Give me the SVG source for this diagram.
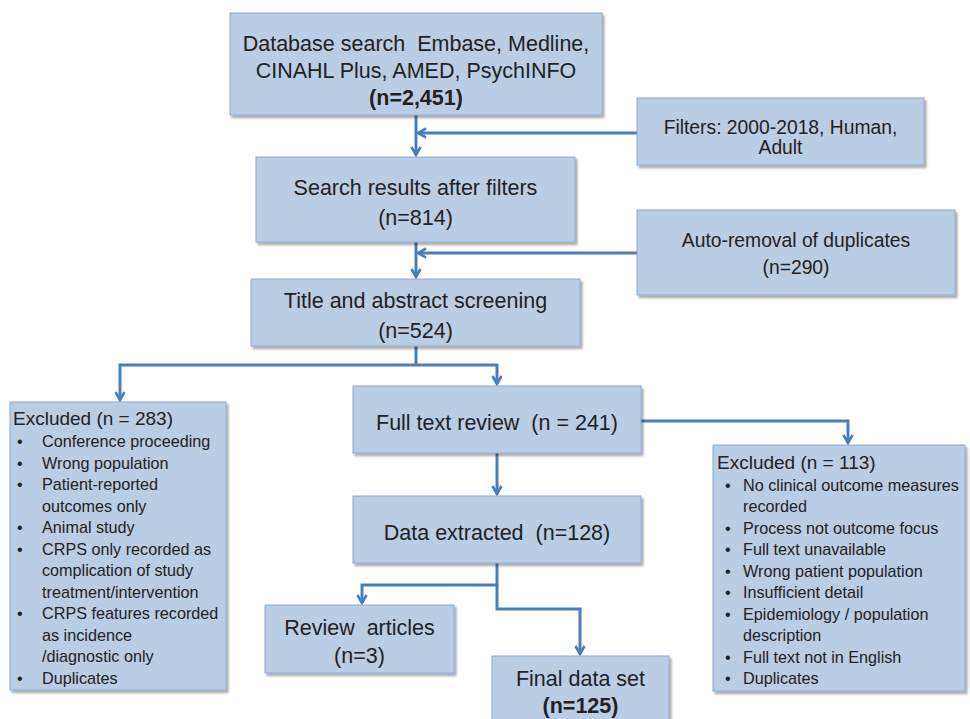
<svg xmlns="http://www.w3.org/2000/svg" width="970" height="719" viewBox="0 0 970 719">
<defs>
<filter id="sh" x="-5%" y="-5%" width="115%" height="120%">
<feDropShadow dx="2" dy="2.5" stdDeviation="1.2" flood-color="#000" flood-opacity="0.35"/>
</filter>
<marker id="ah" viewBox="0 0 12 12" refX="10" refY="6" markerWidth="12" markerHeight="12" markerUnits="userSpaceOnUse" orient="auto">
<path d="M2,1.5 L10,6 L2,10.5" fill="none" stroke="#4a7ebb" stroke-width="2.6" stroke-linejoin="miter"/>
</marker>
</defs>
<style>
.box{fill:#b9cde5;stroke:#8eaad2;stroke-width:1;filter:url(#sh)}
.t{font-family:"Liberation Sans",Arial,sans-serif;font-size:21.5px;fill:#222;text-anchor:middle;white-space:pre}
.ts{font-family:"Liberation Sans",Arial,sans-serif;font-size:19.3px;fill:#222;text-anchor:middle}
.b{font-weight:bold}
.h{font-family:"Liberation Sans",Arial,sans-serif;font-size:19px;fill:#222}
.l{font-family:"Liberation Sans",Arial,sans-serif;font-size:16.2px;fill:#222}
.c{fill:none;stroke:#4a7ebb;stroke-width:3}
.ca{fill:none;stroke:#4a7ebb;stroke-width:3;marker-end:url(#ah)}
</style>
<rect width="970" height="719" fill="#fff"/>
<g id="connectors">
<path class="ca" d="M416,115 V155"/>
<path class="ca" d="M637,133 H418"/>
<path class="ca" d="M416,242 V277"/>
<path class="ca" d="M637,253 H418"/>
<path class="c" d="M416,346 V365"/>
<path class="ca" d="M416,365 H120 V400"/>
<path class="ca" d="M416,365 H497 V384"/>
<path class="ca" d="M641,421 H848 V443"/>
<path class="ca" d="M497,453 V494"/>
<path class="ca" d="M497,563 V585 H362 V603"/>
<path class="ca" d="M497,585 V609 H580 V654"/>
</g>
<g id="database">
<rect class="box" x="230" y="13" width="372" height="102"/>
<text class="t" x="416" y="50.5" xml:space="preserve">Database search  Embase, Medline,</text>
<text class="t" x="416" y="77.5">CINAHL Plus, AMED, PsychINFO</text>
<text class="t b" x="416" y="104.5">(n=2,451)</text>
</g>
<g id="filters">
<rect class="box" x="637" y="98" width="287" height="67"/>
<text class="ts" x="780.5" y="133.5">Filters: 2000-2018, Human,</text>
<text class="ts" x="780.5" y="153.5">Adult</text>
</g>
<g id="search-results">
<rect class="box" x="256" y="157" width="319" height="85"/>
<text class="t" x="415.5" y="194.5">Search results after filters</text>
<text class="t" x="415.5" y="224.5">(n=814)</text>
</g>
<g id="duplicates">
<rect class="box" x="637" y="210" width="318" height="85"/>
<text class="ts" x="796" y="246.5">Auto-removal of duplicates</text>
<text class="ts" x="796" y="273.5">(n=290)</text>
</g>
<g id="title-abstract">
<rect class="box" x="251" y="279" width="329" height="67"/>
<text class="t" x="415.5" y="307.5">Title and abstract screening</text>
<text class="t" x="415.5" y="337.5">(n=524)</text>
</g>
<g id="excluded-283">
<rect class="box" x="10" y="402" width="216" height="288"/>
<text class="h" x="13" y="425">Excluded (n = 283)</text>
<g class="l">
<text x="17" y="447">•</text><text x="42" y="447">Conference proceeding</text>
<text x="17" y="468.5">•</text><text x="42" y="468.5">Wrong population</text>
<text x="17" y="490">•</text><text x="42" y="490">Patient-reported</text>
<text x="42" y="511.5">outcomes only</text>
<text x="17" y="533">•</text><text x="42" y="533">Animal study</text>
<text x="17" y="554.5">•</text><text x="42" y="554.5">CRPS only recorded as</text>
<text x="42" y="576">complication of study</text>
<text x="42" y="597.5">treatment/intervention</text>
<text x="17" y="619">•</text><text x="42" y="619">CRPS features recorded</text>
<text x="42" y="640.5">as incidence</text>
<text x="42" y="662">/diagnostic only</text>
<text x="17" y="683.5">•</text><text x="42" y="683.5">Duplicates</text>
</g>
</g>
<g id="full-text">
<rect class="box" x="353" y="386" width="288" height="67"/>
<text class="t" x="497" y="429.5" xml:space="preserve">Full text review  (n = 241)</text>
</g>
<g id="excluded-113">
<rect class="box" x="713" y="445" width="252" height="246"/>
<text class="h" x="717" y="469">Excluded (n = 113)</text>
<g class="l">
<text x="725" y="490.5">•</text><text x="743" y="490.5">No clinical outcome measures</text>
<text x="743" y="512">recorded</text>
<text x="725" y="533.5">•</text><text x="743" y="533.5">Process not outcome focus</text>
<text x="725" y="555">•</text><text x="743" y="555">Full text unavailable</text>
<text x="725" y="576.5">•</text><text x="743" y="576.5">Wrong patient population</text>
<text x="725" y="598">•</text><text x="743" y="598">Insufficient detail</text>
<text x="725" y="619.5">•</text><text x="743" y="619.5">Epidemiology / population</text>
<text x="743" y="641">description</text>
<text x="725" y="662.5">•</text><text x="743" y="662.5">Full text not in English</text>
<text x="725" y="684">•</text><text x="743" y="684">Duplicates</text>
</g>
</g>
<g id="data-extracted">
<rect class="box" x="353" y="496" width="288" height="67"/>
<text class="t" x="497" y="539.5" xml:space="preserve">Data extracted  (n=128)</text>
</g>
<g id="review-articles">
<rect class="box" x="265" y="605" width="189" height="68"/>
<text class="t" x="359.5" y="634.5" xml:space="preserve">Review  articles</text>
<text class="t" x="359.5" y="662.5">(n=3)</text>
</g>
<g id="final-data-set">
<rect class="box" x="492" y="656" width="177" height="72"/>
<text class="t" x="580.5" y="685.5">Final data set</text>
<text class="t b" x="580.5" y="712.5">(n=125)</text>
</g>
</svg>
